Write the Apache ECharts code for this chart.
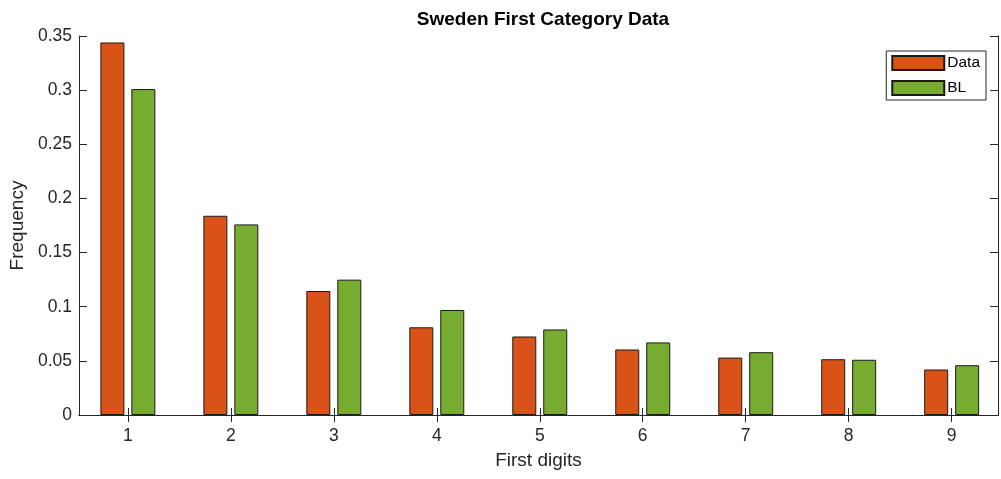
<!DOCTYPE html>
<html>
<head>
<meta charset="utf-8">
<title>Sweden First Category Data</title>
<script src="https://cdn.jsdelivr.net/npm/echarts@6/dist/echarts.min.js"></script>
<style>
  html, body { margin: 0; padding: 0; background: #ffffff; }
  #chart { width: 1001px; height: 479px; }
</style>
</head>
<body>
<div id="chart"></div>
<script>
// First significant digits 1..9
const digits = [1, 2, 3, 4, 5, 6, 7, 8, 9];
// Observed first-digit frequencies
const dataFreq = [0.344, 0.184, 0.1145, 0.081, 0.0725, 0.0605, 0.053, 0.0515, 0.042];
// Benford's law expected frequencies
const blFreq = [0.301, 0.176, 0.125, 0.097, 0.079, 0.067, 0.058, 0.051, 0.046];
// Frequency axis ticks
const yTicks = [0, 0.05, 0.1, 0.15, 0.2, 0.25, 0.3, 0.35];

const FONT = '"Liberation Sans", Arial, Helvetica, sans-serif';
const AX = '#262626';

const chart = echarts.init(document.getElementById('chart'), null, { renderer: 'canvas' });

const xCommon = {
  type: 'value',
  min: 0.525,
  max: 9.45,
  splitLine: { show: false },
  axisLine: { show: true, lineStyle: { color: AX, width: 1 } },
  axisTick: { show: true, inside: true, length: 7, customValues: digits, lineStyle: { color: AX, width: 1 } }
};
const yCommon = {
  type: 'value',
  min: yTicks[0],
  max: yTicks[yTicks.length - 1],
  interval: 0.05,
  splitLine: { show: false },
  axisLine: { show: true, lineStyle: { color: AX, width: 1 } },
  axisTick: { show: true, inside: true, length: 8, lineStyle: { color: AX, width: 1 } }
};

chart.setOption({
  animation: false,
  backgroundColor: '#ffffff',
  title: {
    text: 'Sweden First Category Data',
    left: 538,
    top: 5,
    textAlign: 'center',
    textStyle: { fontFamily: FONT, fontSize: 19, fontWeight: 'bold', color: '#000000' }
  },
  legend: {
    orient: 'vertical',
    right: 15,
    top: 51,
    padding: [4, 6, 4, 5],
    icon: 'rect',
    itemWidth: 52,
    itemHeight: 14,
    itemGap: 9,
    borderColor: AX,
    borderWidth: 1,
    backgroundColor: '#ffffff',
    textStyle: { fontFamily: FONT, fontSize: 15.5, color: '#000000', padding: [0, 0, 0, -2] },
    data: ['Data', 'BL']
  },
  grid: { left: 78, right: 3, top: 36, bottom: 64 },
  xAxis: [
    Object.assign({}, xCommon, {
      position: 'bottom',
      name: 'First digits',
      nameLocation: 'middle',
      nameGap: 36,
      nameTextStyle: { fontFamily: FONT, fontSize: 19, color: AX },
      axisLabel: {
        customValues: digits,
        margin: 12,
        fontFamily: FONT, fontSize: 17.5, color: AX,
        formatter: v => String(Math.round(v))
      }
    }),
    Object.assign({}, xCommon, {
      position: 'top',
      axisLabel: { show: false }
    })
  ],
  yAxis: [
    Object.assign({}, yCommon, {
      position: 'left',
      name: 'Frequency',
      nameLocation: 'middle',
      nameGap: 48,
      nameTextStyle: { fontFamily: FONT, fontSize: 19, color: AX },
      axisLabel: { margin: 7, fontFamily: FONT, fontSize: 17.5, color: AX }
    }),
    Object.assign({}, yCommon, {
      position: 'right',
      axisLabel: { show: false }
    })
  ],
  series: [
    {
      name: 'Data',
      type: 'bar',
      xAxisIndex: 0,
      yAxisIndex: 0,
      barWidth: 24,
      barGap: '29%',
      itemStyle: { color: '#D95319', borderColor: '#1a1a1a', borderWidth: 1 },
      data: digits.map((d, i) => [d, dataFreq[i]])
    },
    {
      name: 'BL',
      type: 'bar',
      xAxisIndex: 0,
      yAxisIndex: 0,
      barWidth: 24,
      barGap: '29%',
      itemStyle: { color: '#77AC30', borderColor: '#1a1a1a', borderWidth: 1 },
      data: digits.map((d, i) => [d, blFreq[i]])
    }
  ]
});
</script>
</body>
</html>
